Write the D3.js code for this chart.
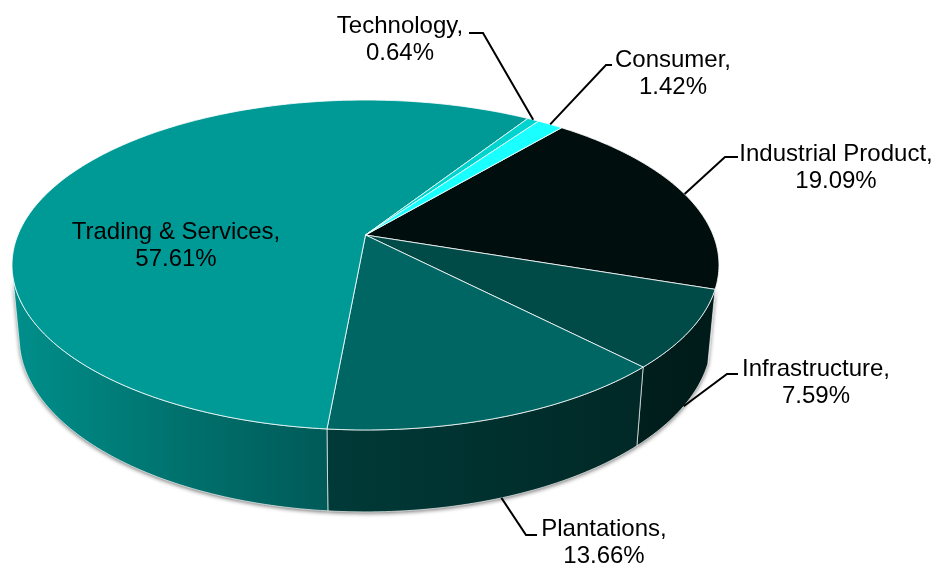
<!DOCTYPE html>
<html>
<head>
<meta charset="utf-8">
<script src="https://cdnjs.cloudflare.com/ajax/libs/d3/7.8.5/d3.min.js"></script>
<style>
  html, body { margin: 0; padding: 0; background: #fff; }
  svg { display: block; }
  text { font-family: "Liberation Sans", Arial, sans-serif; font-size: 24px; fill: #000; }
</style>
</head>
<body>
<svg id="chart" width="942" height="565"></svg>
<script>
// Sector shares in percent, clockwise from the Industrial Product slice
const sectors = ["Industrial Product", "Infrastructure", "Plantations", "Trading & Services", "Technology", "Consumer"];
const shares = [19.09, 7.59, 13.66, 57.61, 0.64, 1.42];
const sliceColors = ["#000f0e", "#004a47", "#006663", "#009a96", "#00d4ce", "#1affff"];

// Side-wall shading, left to right, for each sector
const wallStops = [
  ["#000f0e", "#000f0e"],
  ["#001f1d", "#001b19"],
  ["#003a38", "#002826"],
  ["#008f8b", "#00736f", "#005a58"],
  ["#007a76", "#007a76"],
  ["#007a76", "#007a76"]
];

// Label placement: text centre, first baseline, and leader elbow
const labelLayout = [
  { cx: 836, y: 161, elbow: [[725, 157], [738, 157]], rim: "top" },
  { cx: 816, y: 376, elbow: [[727, 374], [738, 374]], rim: "bottom" },
  { cx: 604, y: 536, elbow: [[526, 535], [537, 535]], rim: "bottom" },
  { cx: 176, y: 239, elbow: null },
  { cx: 400, y: 33, elbow: [[483, 33], [469, 33]], rim: "top" },
  { cx: 673, y: 67, elbow: [[606, 65], [612, 65]], rim: "top" }
];

const svg = d3.select("#chart");
const defs = svg.append("defs");

// Perspective camera: maps a disc point (u, v) at height level z to the screen
const cam = { ox: 365.5, oy: 235, a: 347.6, b: 159.5, k: 0.1818, f: 0.02, e: 72.6 };
function project(angle, radius, z) {
  const u = radius * Math.sin(angle);
  const v = -radius * Math.cos(angle);
  const w = 1 - cam.k * v + cam.f * z;
  return [cam.ox + cam.a * u / w, cam.oy + (cam.b * v + cam.e * z) / w];
}

const rad = d => d * Math.PI / 180;
const startDeg = 40;
const pie = d3.pie().sort(null).startAngle(rad(startDeg)).endAngle(rad(startDeg + 360));
const arcs = pie(shares);

const line = d3.line();
const sampleAngles = (a0, a1) => {
  const n = Math.max(2, Math.ceil((a1 - a0) / rad(1)));
  return d3.range(n + 1).map(i => a0 + (a1 - a0) * i / n);
};

// Only the front part of the rim shows a side wall
const wallFrom = rad(108), wallTo = rad(256);
const wallData = arcs.map((d, i) => {
  const a0 = Math.max(d.startAngle, wallFrom);
  const a1 = Math.min(d.endAngle, wallTo);
  if (a1 <= a0) return null;
  const angles = sampleAngles(a0, a1);
  const pts = angles.map(a => project(a, 1, 0))
    .concat(angles.slice().reverse().map(a => project(a, 1, 1)));
  return { i, pts };
}).filter(Boolean);

wallData.forEach(w => {
  const xs = d3.extent(w.pts, p => p[0]);
  const stops = wallStops[w.i];
  const grad = defs.append("linearGradient")
    .attr("id", "wall" + w.i)
    .attr("gradientUnits", "userSpaceOnUse")
    .attr("x1", xs[0]).attr("x2", xs[1]).attr("y1", 0).attr("y2", 0);
  stops.forEach((c, j) => grad.append("stop")
    .attr("offset", j / (stops.length - 1))
    .attr("stop-color", c));
});

defs.append("filter").attr("id", "softShadow")
  .attr("x", "-5%").attr("y", "-5%").attr("width", "110%").attr("height", "110%")
  .append("feGaussianBlur").attr("stdDeviation", 2);

// Soft shadow under the drum
svg.append("g").attr("filter", "url(#softShadow)").attr("opacity", 0.55)
  .selectAll("path").data(wallData).join("path")
  .attr("transform", "translate(0,1.5)")
  .attr("d", d => line(d.pts) + "Z")
  .attr("fill", "#000");

// Side walls
svg.append("g").selectAll("path").data(wallData).join("path")
  .attr("d", d => line(d.pts) + "Z")
  .attr("fill", d => `url(#wall${d.i})`)
  .attr("stroke", "#ffffff").attr("stroke-opacity", 0.65).attr("stroke-width", 1);

// Top face
svg.append("g").selectAll("path").data(arcs).join("path")
  .attr("d", d => line([project(0, 0, 0)].concat(sampleAngles(d.startAngle, d.endAngle).map(a => project(a, 1, 0)))) + "Z")
  .attr("fill", (d, i) => sliceColors[i])
  .attr("stroke", "#ffffff").attr("stroke-opacity", 0.8).attr("stroke-width", 1)
  .attr("stroke-linejoin", "round");

// Leader lines run from each slice's mid-angle on the rim to its label
svg.append("g").selectAll("path")
  .data(arcs.map((d, i) => ({ d, layout: labelLayout[i] })).filter(o => o.layout.elbow))
  .join("path")
  .attr("d", o => {
    const mid = (o.d.startAngle + o.d.endAngle) / 2;
    return line([project(mid, 1, o.layout.rim === "top" ? 0 : 1)].concat(o.layout.elbow));
  })
  .attr("fill", "none").attr("stroke", "#000").attr("stroke-width", 2);

// Two-line labels: name, then share
const labels = svg.append("g").selectAll("text").data(sectors).join("text")
  .attr("text-anchor", "middle");
labels.append("tspan")
  .attr("x", (d, i) => labelLayout[i].cx)
  .attr("y", (d, i) => labelLayout[i].y)
  .text(d => d + ",");
labels.append("tspan")
  .attr("x", (d, i) => labelLayout[i].cx)
  .attr("y", (d, i) => labelLayout[i].y + 27)
  .text((d, i) => shares[i].toFixed(2) + "%");
</script>
</body>
</html>
